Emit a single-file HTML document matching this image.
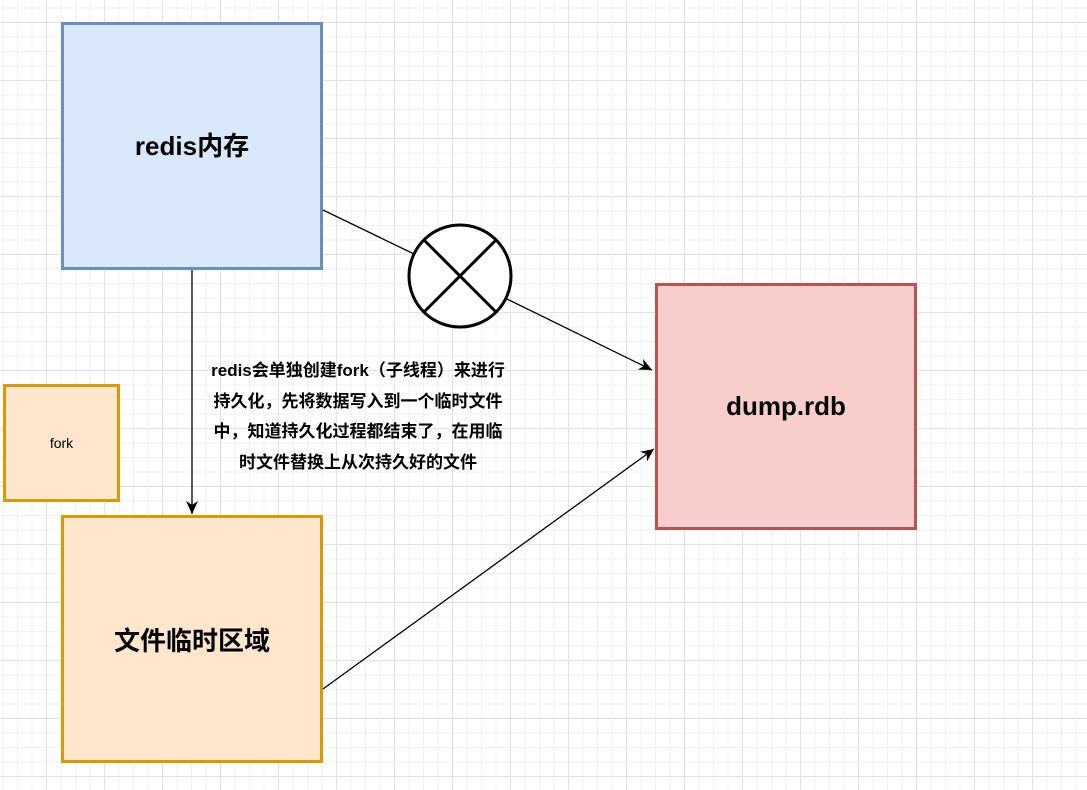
<!DOCTYPE html>
<html><head><meta charset="utf-8"><style>
html,body{margin:0;padding:0}
body{width:1087px;height:790px;position:relative;overflow:hidden;background-color:#fff;
background-image:
linear-gradient(#e4e4e4 1px,transparent 1px),
linear-gradient(90deg,#e4e4e4 1px,transparent 1px),
linear-gradient(#f2f2f2 1px,transparent 1px),
linear-gradient(90deg,#f2f2f2 1px,transparent 1px);
background-size:58px 58px,58px 58px,14.5px 14.5px,14.5px 14.5px;
background-position:0 22px,46px 0,0 7.5px,2.5px 0;
font-family:"Liberation Sans","Noto Sans CJK SC",sans-serif}
.b{position:absolute;box-sizing:border-box;display:flex;align-items:center;justify-content:center;font-weight:bold;font-size:26px;color:#000}
.t{position:absolute;left:158px;top:356px;width:400px;text-align:center;font-weight:bold;font-size:17px;line-height:30.5px;color:#000;white-space:nowrap}
</style></head><body>
<div class="b" style="left:61px;top:22px;width:262px;height:248px;background:#dae8fc;border:3px solid #6c8ebf;padding-bottom:4px">redis内存</div>
<div class="b" style="left:3px;top:384px;width:117px;height:118px;background:#ffe6cc;border:3px solid #d79b00;font-weight:normal;font-size:14px">fork</div>
<div class="b" style="left:61px;top:515px;width:262px;height:248px;background:#ffe6cc;border:3px solid #d79b00">文件临时区域</div>
<div class="b" style="left:655px;top:283px;width:262px;height:247px;background:#f8cecc;border:3px solid #b85450">dump.rdb</div>
<svg width="1087" height="790" style="position:absolute;left:0;top:0">
<defs><marker id="a" markerWidth="14" markerHeight="14" refX="13" refY="6" orient="auto" markerUnits="userSpaceOnUse"><path d="M0,0 L13,6 L0,12 L4,6z" fill="#000"/></marker></defs>
<line x1="192" y1="270" x2="192" y2="514" stroke="#000" stroke-width="1.3" marker-end="url(#a)"/>
<line x1="323" y1="210" x2="414" y2="254" stroke="#000" stroke-width="1.3"/>
<line x1="507" y1="299" x2="652" y2="370" stroke="#000" stroke-width="1.3" marker-end="url(#a)"/>
<line x1="323" y1="689" x2="654" y2="449" stroke="#000" stroke-width="1.3" marker-end="url(#a)"/>
<circle cx="460" cy="276" r="51" fill="#fff" stroke="#000" stroke-width="3"/>
<line x1="424" y1="240" x2="496" y2="312" stroke="#000" stroke-width="3"/>
<line x1="496" y1="240" x2="424" y2="312" stroke="#000" stroke-width="3"/>
</svg>
<div class="t">redis会单独创建fork（子线程）来进行<br>持久化，先将数据写入到一个临时文件<br>中，知道持久化过程都结束了，在用临<br>时文件替换上从次持久好的文件</div>
</body></html>
